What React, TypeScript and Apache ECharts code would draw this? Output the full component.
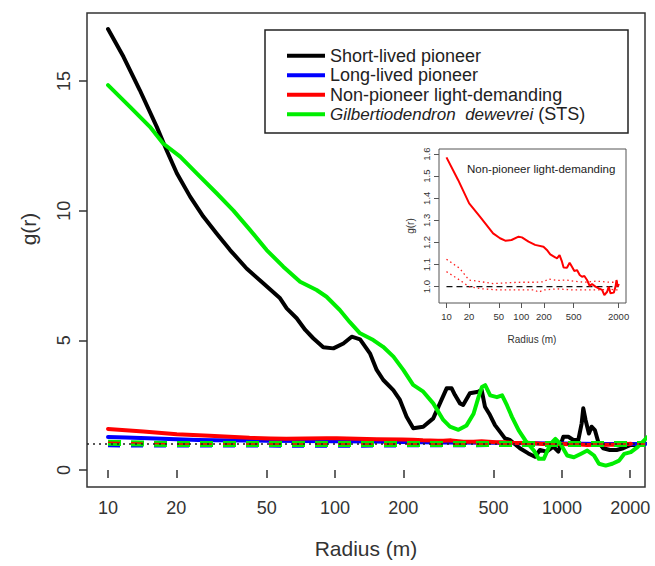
import React, { useEffect, useRef } from "react";
import * as echarts from "echarts";

const FONT = '"Liberation Sans", Arial, Helvetica, sans-serif';

// Main panel ticks
const xTicks = [10, 20, 50, 100, 200, 500, 1000, 2000];
const yTicks = [0, 5, 10, 15];

// Short-lived pioneer (black)
const shortR = [10, 11.7, 13.8, 16.4, 18.1, 20.1, 23, 26.3, 30.1, 34.5, 40.8, 48.3, 57.3, 61.3, 67.8, 74, 80.2, 88.8, 98.4, 108.9, 118.5, 129, 142.6, 152.7, 163.3, 180.7, 193.3, 206.8, 221.3, 244.9, 271, 290, 310.5, 326.7, 338, 355.5, 367, 393, 428, 443, 458, 482, 507, 533, 561, 590, 653, 711, 761, 800, 856, 916, 964, 1014, 1067, 1123, 1181, 1222, 1242, 1271, 1315, 1351, 1397, 1445, 1520, 1626, 1741, 1862, 1994, 2170, 2323];
const shortG = [17.0, 15.93, 14.65, 13.23, 12.34, 11.44, 10.54, 9.77, 9.12, 8.48, 7.77, 7.2, 6.62, 6.23, 5.85, 5.4, 5.08, 4.73, 4.69, 4.88, 5.14, 5.04, 4.5, 3.86, 3.47, 3.08, 2.7, 2.05, 1.61, 1.67, 1.99, 2.57, 3.15, 3.15, 2.89, 2.57, 2.51, 2.96, 3.02, 3.08, 2.44, 2.12, 1.73, 1.48, 1.22, 1.16, 0.84, 0.64, 0.51, 0.77, 0.71, 0.9, 0.71, 1.28, 1.28, 1.16, 1.16, 1.8, 2.38, 1.93, 1.41, 1.67, 1.54, 1.09, 0.84, 0.77, 0.77, 0.84, 0.96, 0.96, 1.03];

// Long-lived pioneer (blue)
const longR = [10, 12, 15, 20, 25, 30, 40, 50, 70, 100, 150, 200, 300, 500, 700, 1000, 1500, 2000, 2330];
const longG = [1.27, 1.25, 1.22, 1.19, 1.16, 1.15, 1.14, 1.13, 1.12, 1.11, 1.1, 1.08, 1.06, 1.05, 1.03, 1.02, 1.0, 1.0, 1.0];

// Non-pioneer light-demanding (red), also used in inset
const npR = [10, 14.3, 20.1, 28, 42, 52, 61, 74, 92, 102, 125, 153, 198, 220, 244, 284, 300, 325, 350, 368, 408, 443, 476, 512, 556, 604, 649, 697, 757, 822, 883, 979, 1086, 1203, 1290, 1406, 1479, 1556, 1726, 1820, 1875, 1950, 2014];
const npG = [1.585, 1.483, 1.377, 1.317, 1.241, 1.219, 1.208, 1.211, 1.226, 1.223, 1.204, 1.189, 1.181, 1.166, 1.146, 1.133, 1.128, 1.143, 1.113, 1.087, 1.086, 1.108, 1.09, 1.071, 1.075, 1.053, 1.045, 1.048, 1.03, 1.003, 1.012, 1.0, 0.992, 0.985, 0.962, 0.977, 1.0, 0.97, 0.973, 1.0, 1.03, 1.0, 1.012];

// Gilbertiodendron dewevrei (green)
const gilR = [10, 12.5, 15.3, 17.5, 20.8, 24.6, 30.1, 35.7, 42.3, 50, 59.2, 70.2, 83, 91.8, 105, 116.3, 129, 147.5, 163, 181, 200, 221, 245, 271, 300, 321, 350, 380, 408, 429, 444, 459, 483, 517, 545, 573, 603, 645, 690, 752, 791, 832, 890, 936, 985, 1055, 1129, 1209, 1294, 1385, 1456, 1559, 1668, 1786, 1880, 2012, 2152, 2303, 2380];
const gilG = [14.84, 14.0, 13.23, 12.59, 12.08, 11.44, 10.67, 10.0, 9.25, 8.48, 7.84, 7.26, 6.94, 6.68, 6.17, 5.7, 5.27, 5.01, 4.75, 4.37, 3.86, 3.28, 3.02, 2.57, 1.93, 1.67, 1.55, 1.72, 2.17, 2.81, 3.2, 3.27, 2.88, 2.81, 2.88, 2.49, 2.04, 1.53, 1.14, 0.75, 0.43, 0.43, 1.01, 1.2, 1.01, 0.56, 0.49, 0.62, 0.75, 0.56, 0.24, 0.17, 0.24, 0.36, 0.62, 0.69, 0.88, 1.14, 1.27];

// Envelopes (main panel, dashed)
const envR = [10, 15, 20, 50, 100, 200, 500, 1000, 2000, 2330];
const envBlue = [0.97, 0.96, 0.96, 0.96, 0.95, 0.97, 0.98, 0.99, 1.0, 1.0];
const envRed = [1.07, 1.03, 1.0, 1.0, 1.0, 1.0, 1.0, 1.0, 1.0, 1.0];
const envGreen = [1.05, 1.02, 1.0, 1.0, 1.0, 1.0, 1.0, 1.0, 1.0, 1.0];

// Inset envelopes (red dotted)
const insTicksX = [10, 20, 50, 100, 200, 500, 2000];
const insTicksY = [1.0, 1.1, 1.2, 1.3, 1.4, 1.5, 1.6];
const upR = [10, 15, 20, 28, 42, 70, 100, 150, 200, 230, 300, 400, 500, 700, 1000, 1500, 2000];
const upG = [1.124, 1.083, 1.03, 1.023, 1.014, 1.018, 1.02, 1.02, 1.022, 1.035, 1.028, 1.03, 1.025, 1.02, 1.025, 1.02, 1.02];
const loR = [10, 15, 20, 30, 50, 100, 150, 170, 200, 300, 500, 700, 1000, 1500, 2000];
const loG = [1.068, 1.03, 1.0, 0.99, 0.985, 0.985, 0.985, 0.975, 0.985, 0.99, 0.985, 0.985, 0.985, 0.988, 0.985];
const refR = [10, 2000];
const refG = [1.0, 1.0];

const L = (v: number) => Math.log10(v);
const pairs = (r: number[], g: number[]) => r.map((x, i) => [L(x), g[i]]);
const fmtR = (v: number) => String(Math.round(Math.pow(10, v)));

export default function App() {
  const ref = useRef<HTMLDivElement>(null);
  useEffect(() => {
    if (!ref.current) return;
    const chart = echarts.init(ref.current, undefined, { renderer: "svg" });
    const mainLine = (name: string, color: string, r: number[], g: number[]) => ({
      name,
      type: "line",
      xAxisIndex: 0,
      yAxisIndex: 0,
      data: pairs(r, g),
      showSymbol: false,
      symbol: "none",
      color,
      itemStyle: { color },
      lineStyle: { color, width: 4, cap: "round", join: "round" },
    });
    const envLine = (color: string, r: number[], g: number[], width: number, dash: number[]) => ({
      type: "line",
      xAxisIndex: 0,
      yAxisIndex: 0,
      data: pairs(r, g),
      showSymbol: false,
      symbol: "none",
      silent: true,
      lineStyle: { color, width, type: dash },
    });
    const option: any = {
      animation: false,
      backgroundColor: "#ffffff",
      textStyle: { fontFamily: FONT },
      grid: [
        { left: 87, top: 13, width: 558, height: 474, show: true, borderColor: "#333", borderWidth: 1.5, backgroundColor: "transparent" },
        { left: 439, top: 149, width: 187, height: 154, show: true, borderColor: "#555", borderWidth: 1, backgroundColor: "#fff" },
      ],
      xAxis: [
        {
          type: "value", gridIndex: 0, min: L(8.08), max: L(2323),
          axisLine: { show: false },
          splitLine: { show: false },
          axisTick: { show: true, inside: false, length: 8, customValues: xTicks.map(L), lineStyle: { color: "#333", width: 1.5 } },
          axisLabel: { customValues: xTicks.map(L), formatter: fmtR, fontSize: 18, color: "#333", margin: 12, fontFamily: FONT },
        },
        {
          type: "value", gridIndex: 1, min: 0.9, max: 3.4,
          axisLine: { show: false },
          splitLine: { show: false },
          axisTick: { show: true, length: 5, customValues: insTicksX.map(L), lineStyle: { color: "#555", width: 1 } },
          axisLabel: { customValues: insTicksX.map(L), formatter: fmtR, fontSize: 9.5, color: "#333", margin: 8, fontFamily: FONT },
        },
      ],
      yAxis: [
        {
          type: "value", gridIndex: 0, min: -0.655, max: 17.62,
          axisLine: { show: false },
          splitLine: { show: false },
          axisTick: { show: true, length: 8, customValues: yTicks, lineStyle: { color: "#333", width: 1.5 } },
          axisLabel: { customValues: yTicks, rotate: 90, fontSize: 18, color: "#333", margin: 14, fontFamily: FONT },
        },
        {
          type: "value", gridIndex: 1, min: 0.926, max: 1.623,
          axisLine: { show: false },
          splitLine: { show: false },
          axisTick: { show: true, length: 5, customValues: insTicksY, lineStyle: { color: "#555", width: 1 } },
          axisLabel: { customValues: insTicksY, rotate: 90, fontSize: 9.5, color: "#333", margin: 8, formatter: (v: number) => v.toFixed(1), fontFamily: FONT },
        },
      ],
      legend: {
        show: true,
        orient: "vertical",
        left: 282,
        top: 41,
        itemWidth: 38,
        itemHeight: 4,
        icon: "rect",
        itemGap: 0,
        itemTextGap: 22,
        selectedMode: false,
        data: ["Short-lived pioneer", "Long-lived pioneer", "Non-pioneer light-demanding", "Gilbertiodendron dewevrei (STS)"],
        formatter: (n: string) => (n.startsWith("Gilbertiodendron") ? "{i|Gilbertiodendron  dewevrei} (STS)" : n),
        textStyle: {
          fontSize: 18, lineHeight: 19.5, color: "#222", fontFamily: FONT,
          rich: { i: { fontStyle: "italic", fontSize: 17, lineHeight: 19.5, color: "#222", fontFamily: FONT } },
        },
      },
      series: [
        mainLine("Short-lived pioneer", "#000000", shortR, shortG),
        mainLine("Long-lived pioneer", "#0000ff", longR, longG),
        mainLine("Non-pioneer light-demanding", "#ff0000", npR, npG),
        mainLine("Gilbertiodendron dewevrei (STS)", "#00ee00", gilR, gilG),
        envLine("#0000ff", envR, envBlue, 5, [12, 11]),
        envLine("#00ee00", envR, envGreen, 6, [13, 10]),
        {
          ...envLine("#ff0000", envR, envRed, 1.5, [12, 11]),
          markLine: {
            silent: true,
            symbol: "none",
            label: { show: false },
            lineStyle: { color: "#222", width: 1.5, type: [2, 4] },
            data: [{ yAxis: 1 }],
          },
        },
        // inset
        {
          type: "line", xAxisIndex: 1, yAxisIndex: 1, data: pairs(refR, refG), showSymbol: false, symbol: "none", silent: true,
          lineStyle: { color: "#111", width: 1.3, type: [6, 4] },
        },
        {
          type: "line", xAxisIndex: 1, yAxisIndex: 1, data: pairs(upR, upG), showSymbol: false, symbol: "none", silent: true,
          lineStyle: { color: "#ff2020", width: 1.3, type: [1.5, 3] },
        },
        {
          type: "line", xAxisIndex: 1, yAxisIndex: 1, data: pairs(loR, loG), showSymbol: false, symbol: "none", silent: true,
          lineStyle: { color: "#ff2020", width: 1.3, type: [1.5, 3] },
        },
        {
          type: "line", xAxisIndex: 1, yAxisIndex: 1, data: pairs(npR, npG), showSymbol: false, symbol: "none", silent: true,
          lineStyle: { color: "#ff0000", width: 2 },
        },
      ],
      graphic: [
        { type: "rect", shape: { x: 265, y: 30, width: 363, height: 103 }, style: { fill: "none", stroke: "#222", lineWidth: 1.5 }, silent: true },
        { type: "text", x: 28, y: 229, rotation: Math.PI / 2, style: { text: "g(r)", font: `21px ${FONT}`, fill: "#333", align: "center", verticalAlign: "middle" } },
        { type: "text", x: 366, y: 548, style: { text: "Radius (m)", font: `21px ${FONT}`, fill: "#333", align: "center", verticalAlign: "middle" } },
        { type: "text", x: 467, y: 169, style: { text: "Non-pioneer light-demanding", font: `11.5px ${FONT}`, fill: "#222", align: "left", verticalAlign: "middle" } },
        { type: "text", x: 410, y: 226, rotation: Math.PI / 2, style: { text: "g(r)", font: `10px ${FONT}`, fill: "#333", align: "center", verticalAlign: "middle" } },
        { type: "text", x: 532, y: 339, style: { text: "Radius (m)", font: `10px ${FONT}`, fill: "#333", align: "center", verticalAlign: "middle" } },
      ],
    };
    chart.setOption(option);
    return () => chart.dispose();
  }, []);
  return <div ref={ref} style={{ position: "fixed", left: 0, top: 0, width: 655, height: 566, background: "#fff" }} />;
}
